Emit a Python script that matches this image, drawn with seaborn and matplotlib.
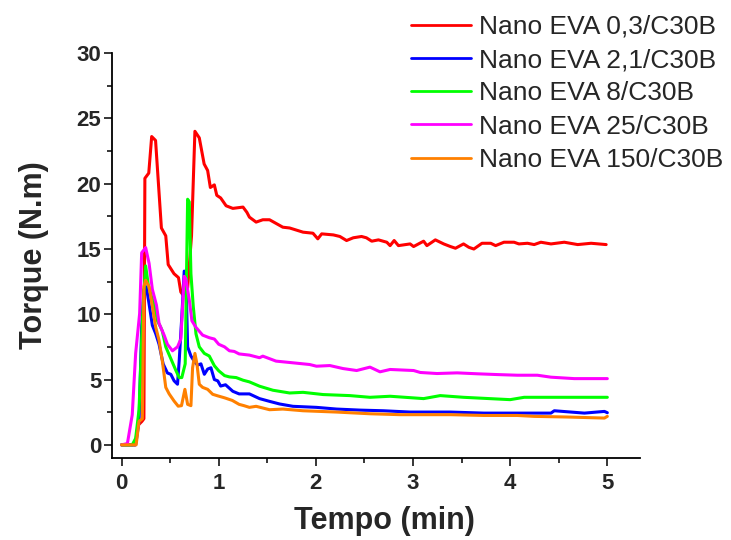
import pandas as pd
import seaborn as sns
import matplotlib.pyplot as plt
from matplotlib.ticker import MultipleLocator
from matplotlib.lines import Line2D

# time (min) / torque (N.m)
t_03 = [0, 0.14, 0.17, 0.21, 0.23, 0.24, 0.28, 0.31, 0.35, 0.41, 0.455, 0.48, 0.54, 0.586, 0.61, 0.63, 0.68,
        0.72, 0.755, 0.80, 0.85, 0.886, 0.914, 0.955, 0.98, 1.02, 1.076, 1.145, 1.25, 1.29,
        1.316, 1.385, 1.454, 1.523, 1.66, 1.73, 1.868, 1.97, 2.02, 2.06, 2.18, 2.247, 2.316, 2.385, 2.47,
        2.52, 2.575, 2.644, 2.73, 2.764, 2.806, 2.85, 2.97, 3.006, 3.109, 3.143, 3.23, 3.316, 3.385, 3.437,
        3.52, 3.575, 3.626, 3.71, 3.8, 3.85, 3.936, 4.04, 4.09, 4.178, 4.247, 4.316, 4.42, 4.557, 4.695,
        4.833, 4.988]
v_03 = [0, 0, 1.5, 1.8, 2.0, 20.4, 20.8, 23.6, 23.3, 16.6, 16.0, 13.8, 13.1, 12.8, 11.7, 11.5, 12.0,
        16.0, 24.0, 23.5, 21.5, 21.0, 19.7, 19.9, 19.1, 18.9, 18.3, 18.1, 18.2, 17.8,
        17.43, 17.05, 17.23, 17.23, 16.66, 16.6, 16.28, 16.2, 15.77, 16.15, 16.07, 15.95, 15.64, 15.85, 15.95,
        15.85, 15.59, 15.69, 15.51, 15.25, 15.64, 15.25, 15.38, 15.18, 15.59, 15.25, 15.69, 15.38, 15.18, 15.05,
        15.38, 15.12, 14.99, 15.43, 15.43, 15.25, 15.51, 15.51, 15.38, 15.43, 15.33, 15.51, 15.38, 15.51, 15.33,
        15.43, 15.33]

t_21 = [0, 0.145, 0.18, 0.207, 0.23, 0.255, 0.283, 0.317, 0.352, 0.386, 0.428, 0.472, 0.507, 0.541, 0.576,
        0.593, 0.62, 0.645, 0.662, 0.68, 0.714, 0.748, 0.783, 0.817, 0.852, 0.886, 0.92, 0.955, 0.99, 1.02,
        1.07, 1.145, 1.21, 1.26,
        1.316, 1.42, 1.523, 1.626, 1.764, 2.006, 2.213, 2.454, 2.695, 2.97, 3.385, 3.73, 4.42, 4.454, 4.764,
        4.97, 5.0]
v_21 = [0, 0, 1.8, 9.0, 11.9, 12.1, 10.8, 9.15, 8.5, 7.7, 6.2, 5.5, 5.4, 4.9, 4.64,
        6.4, 9.8, 13.3, 13.1, 7.5, 6.8, 6.4, 6.1, 6.2, 5.4, 5.8, 5.9, 5.0, 4.9, 4.5,
        4.6, 4.1, 3.9, 3.9,
        3.90, 3.54, 3.33, 3.13, 2.95, 2.87, 2.74, 2.66, 2.61, 2.51, 2.51, 2.43, 2.43, 2.61, 2.43,
        2.56, 2.46]

t_8 = [0, 0.11, 0.145, 0.18, 0.22, 0.248, 0.276, 0.31, 0.334, 0.369, 0.403, 0.42, 0.455, 0.507, 0.559, 0.593,
       0.62, 0.655, 0.68, 0.697, 0.714, 0.738, 0.766, 0.80, 0.852, 0.903, 0.955, 1.0, 1.06, 1.11, 1.18,
       1.25,
       1.316, 1.42, 1.558, 1.73, 1.868, 2.075, 2.35, 2.557, 2.764, 3.109, 3.28, 3.52, 4.0, 4.144, 4.764, 5.0]
v_8 = [0, 0, 0.5, 2.7, 10.6, 13.7, 12.2, 11.3, 10.8, 9.5, 9.0, 8.7, 7.5, 6.6, 5.7, 5.15,
       5.15, 6.2, 18.8, 18.6, 13.1, 10.6, 8.5, 7.5, 7.0, 6.8, 6.06, 5.67, 5.3, 5.2, 5.15,
       4.95,
       4.82, 4.49, 4.18, 3.97, 4.02, 3.85, 3.77, 3.64, 3.72, 3.54, 3.77, 3.64, 3.46, 3.64, 3.64, 3.64]

t_25 = [0, 0.06, 0.11, 0.145, 0.186, 0.207, 0.248, 0.283, 0.317, 0.359, 0.386, 0.438, 0.472, 0.524, 0.576,
        0.61, 0.645, 0.662, 0.697, 0.724, 0.765, 0.834, 0.903, 0.955, 1.0, 1.06, 1.11, 1.16, 1.21, 1.28,
        1.316, 1.42, 1.454, 1.59, 1.764, 1.936, 2.006, 2.144, 2.28, 2.42, 2.557, 2.66, 2.764, 3.006, 3.075,
        3.247, 3.454, 3.66, 3.867, 4.074, 4.28, 4.42, 4.66, 5.0]
v_25 = [0, 0.1, 2.3, 7.0, 10.05, 14.7, 15.1, 13.9, 11.9, 10.7, 9.3, 8.4, 7.7, 7.2, 7.5,
        8.1, 12.9, 12.7, 11.1, 9.5, 9.0, 8.4, 8.2, 8.1, 7.7, 7.5, 7.2, 7.15, 6.96, 6.9,
        6.87, 6.67, 6.79, 6.41, 6.28, 6.15, 6.02, 6.07, 5.84, 5.69, 5.95, 5.59, 5.77, 5.69, 5.54,
        5.46, 5.51, 5.44, 5.38, 5.33, 5.33, 5.18, 5.07, 5.07]

t_150 = [0, 0.15, 0.18, 0.214, 0.23, 0.248, 0.283, 0.317, 0.352, 0.386, 0.42, 0.455, 0.49, 0.541, 0.583,
         0.617, 0.652, 0.68, 0.714, 0.731, 0.755, 0.776, 0.80, 0.834, 0.886, 0.938, 0.99, 1.06, 1.14, 1.21,
         1.26,
         1.316, 1.385, 1.523, 1.66, 1.868, 2.213, 2.557, 2.868, 3.385, 3.73, 4.074, 4.247, 4.592, 4.97, 5.0]
v_150 = [0, 0, 1.8, 2.0, 12.1, 12.6, 12.1, 10.6, 9.0, 8.0, 6.4, 4.4, 3.9, 3.35, 2.96,
         3.0, 4.25, 3.1, 3.0, 5.9, 7.0, 6.2, 4.64, 4.4, 4.25, 3.87, 3.75, 3.6, 3.4, 3.1,
         3.0,
         2.87, 2.95, 2.69, 2.74, 2.61, 2.51, 2.38, 2.31, 2.31, 2.25, 2.25, 2.18, 2.13, 2.05, 2.18]

labels = ['Nano EVA 0,3/C30B', 'Nano EVA 2,1/C30B', 'Nano EVA 8/C30B',
          'Nano EVA 25/C30B', 'Nano EVA 150/C30B']
colors = ['#FF0000', '#0000FF', '#00FF00', '#FF00FF', '#FF8000']

series = [(t_03, v_03), (t_21, v_21), (t_8, v_8), (t_25, v_25), (t_150, v_150)]
frames = []
for lab, (t, v) in zip(labels, series):
    frames.append(pd.DataFrame({'Tempo': t, 'Torque': v, 'amostra': lab}))
df = pd.concat(frames, ignore_index=True)

sns.set_style('ticks')
plt.rcParams['font.family'] = ['Liberation Sans', 'DejaVu Sans']

fig = plt.figure(figsize=(7.31, 5.4), dpi=100)
ax = fig.add_axes([0.153, 0.152, 0.723, 0.75])

sns.lineplot(data=df, x='Tempo', y='Torque', hue='amostra', hue_order=labels,
             palette=colors, estimator=None, sort=False, linewidth=2.2, ax=ax, legend=False)

ax.set_xlim(-0.1, 5.34)
ax.set_ylim(-1, 30)
ax.xaxis.set_major_locator(MultipleLocator(1))
ax.xaxis.set_minor_locator(MultipleLocator(0.5))
ax.yaxis.set_major_locator(MultipleLocator(5))
ax.yaxis.set_minor_locator(MultipleLocator(2.5))
ax.tick_params(which='major', length=6, width=1.3, labelsize=16, direction='out')
ax.tick_params(which='minor', length=3.5, width=1.3, direction='out')
ax.tick_params(axis='y', which='major', pad=1.5)
ax.tick_params(axis='x', which='major', pad=5)
for lbl in ax.get_xticklabels() + ax.get_yticklabels():
    lbl.set_fontweight('bold')
for s in ['top', 'right']:
    ax.spines[s].set_visible(False)
for s in ['left', 'bottom']:
    ax.spines[s].set_linewidth(1.3)
    ax.spines[s].set_color('black')
ax.spines['left'].set_bounds(-1, 30)

ax.set_xlabel('Tempo (min)', fontsize=22, fontweight='bold')
ax.set_ylabel('Torque (N.m)', fontsize=22, fontweight='bold', labelpad=20)
ax.xaxis.set_label_coords(0.515, -0.118)
ax.xaxis.label.set_va('top')

handles = [Line2D([], [], color=c, lw=2) for c in colors]
fig.legend(handles, labels, loc='upper right', bbox_to_anchor=(1.004, 0.992), frameon=False,
           fontsize=19, handlelength=2.3, handletextpad=0.3, labelspacing=0.35, borderaxespad=0)

fig.savefig('out.png', dpi=100)
